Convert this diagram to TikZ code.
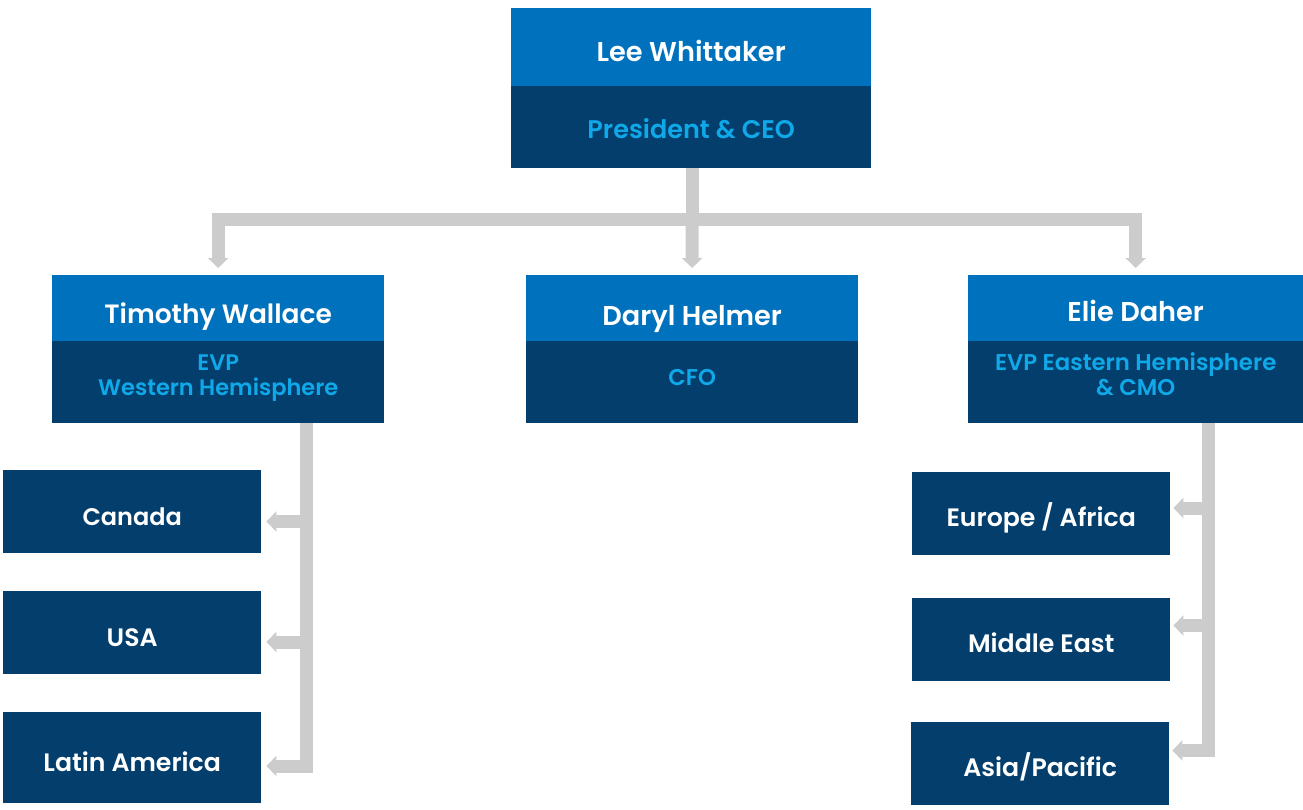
\documentclass[tikz,border=0pt]{standalone}
\usepackage{fontspec}
\setmainfont{Poppins}[UprightFont={* SemiBold},BoldFont={* Bold}]
\usetikzlibrary{arrows.meta}
\definecolor{lblue}{HTML}{0071BC}
\definecolor{navy}{HTML}{033E6D}
\definecolor{tblue}{HTML}{0FA8E8}
\definecolor{conngray}{HTML}{CCCCCC}
\tikzset{
  namebox/.style={anchor=north west,fill=lblue,inner sep=0pt},
  titlebox/.style={anchor=north west,fill=navy,inner sep=0pt},
  regionbox/.style={anchor=north west,fill=navy,inner sep=0pt},
  nametext/.style={anchor=base,inner sep=0pt,text=white,font=\fontsize{27.2}{30}\selectfont},
  titletext/.style={anchor=base,inner sep=0pt,text=tblue,font=\fontsize{22.8}{26}\selectfont},
  regiontext/.style={anchor=base,inner sep=0pt,text=white,font=\fontsize{25.2}{28}\selectfont},
  conn/.style={draw=conngray,line width=13pt,line cap=butt,line join=miter},
  arr/.style={conn,-{Triangle[width=20pt,length=10pt]}}
}
\begin{document}
\begin{tikzpicture}[x=1pt,y=-1pt]
\useasboundingbox (0,0) rectangle (1303,809);
% top
\node[namebox,minimum width=360pt,minimum height=78pt] (leeN) at (511,8) {};
\node[titlebox,minimum width=360pt,minimum height=82pt] (leeT) at (511,86) {};
\node[nametext] (leeNt) at (leeN.center |- 0,61) {Lee Whittaker};
\node[titletext,font=\fontsize{25.5}{28}\selectfont] (leeTt) at (leeN.center |- 0,138) {President \& CEO};
% middle row
\node[namebox,minimum width=332pt,minimum height=66pt] (timN) at (52,275) {};
\node[titlebox,minimum width=332pt,minimum height=82pt] (timT) at (52,341) {};
\node[nametext,font=\fontsize{26.5}{30}\selectfont] (timNt) at (timN.center |- 0,323) {Timothy Wallace};
\node[titletext,font=\fontsize{22.5}{26}\selectfont] (timT1) at (timN.center |- 0,370) {EVP};
\node[titletext,font=\fontsize{22.5}{26}\selectfont] (timT2) at (timN.center |- 0,395) {Western Hemisphere};
\node[namebox,minimum width=332pt,minimum height=66pt] (darN) at (526,275) {};
\node[titlebox,minimum width=332pt,minimum height=82pt] (darT) at (526,341) {};
\node[nametext] (darNt) at (darN.center |- 0,325) {Daryl Helmer};
\node[titletext] (darTt) at (darN.center |- 0,385) {CFO};
\node[namebox,minimum width=335pt,minimum height=66pt] (eliN) at (968,275) {};
\node[titlebox,minimum width=335pt,minimum height=82pt] (eliT) at (968,341) {};
\node[nametext] (eliNt) at (eliN.center |- 0,321.5) {Elie Daher};
\node[titletext] (eliT1) at (eliN.center |- 0,370) {EVP Eastern Hemisphere};
\node[titletext] (eliT2) at (eliN.center |- 0,395) {\& CMO};
% regions left
\node[regionbox,minimum width=258pt,minimum height=83pt] (can) at (3,470) {};
\node[regionbox,minimum width=258pt,minimum height=83pt] (usa) at (3,591) {};
\node[regionbox,minimum width=258pt,minimum height=91pt] (lat) at (3,712) {};
\node[regiontext,font=\fontsize{24}{28}\selectfont] (cant) at (can.center |- 0,525) {Canada};
\node[regiontext] (usat) at (usa.center |- 0,646) {USA};
\node[regiontext] (latt) at (lat.center |- 0,771.5) {Latin America};
% regions right
\node[regionbox,minimum width=258pt,minimum height=83pt] (eur) at (912,472) {};
\node[regionbox,minimum width=258pt,minimum height=83pt] (mid) at (912,598) {};
\node[regionbox,minimum width=258pt,minimum height=83pt] (asi) at (911,722) {};
\node[regiontext] (eurt) at (eur.center |- 0,526.5) {Europe / Africa};
\node[regiontext] (midt) at (mid.center |- 0,652.5) {Middle East};
\node[regiontext] (asit) at (asi.center |- 0,776.5) {Asia/Pacific};
% top connectors
\coordinate (bus) at (692,219);
\draw[conn] (leeT.south -| bus) -- (bus);
\draw[arr,shorten >=7pt] (bus) -| (timN.north);
\draw[arr,shorten >=7pt] (bus) -- (darN.north);
\draw[arr,shorten >=7pt] (bus) -| (eliN.north);
% left branch
\coordinate (lstem) at (306.5,772.5);
\draw[conn] (timT.south -| lstem) -- (306.5,766) -- (lstem);
\draw[arr,shorten >=5pt] (306.5,766) -- (lat.east |- 0,766);
\draw[arr,shorten >=5pt] (306.5,521.5) -- (can.east |- 0,521.5);
\draw[arr,shorten >=5pt] (306.5,642) -- (usa.east |- 0,642);
% right branch
\coordinate (rstem) at (1208.5,757);
\draw[conn] (eliT.south -| rstem) -- (rstem);
\draw[arr,shorten >=3pt] (1208.5,750.5) -- (asi.east |- 0,750.5);
\draw[arr,shorten >=3pt] (1208.5,508) -- (eur.east |- 0,508);
\draw[arr,shorten >=3pt] (1208.5,625.5) -- (mid.east |- 0,625.5);
\end{tikzpicture}
\end{document}
